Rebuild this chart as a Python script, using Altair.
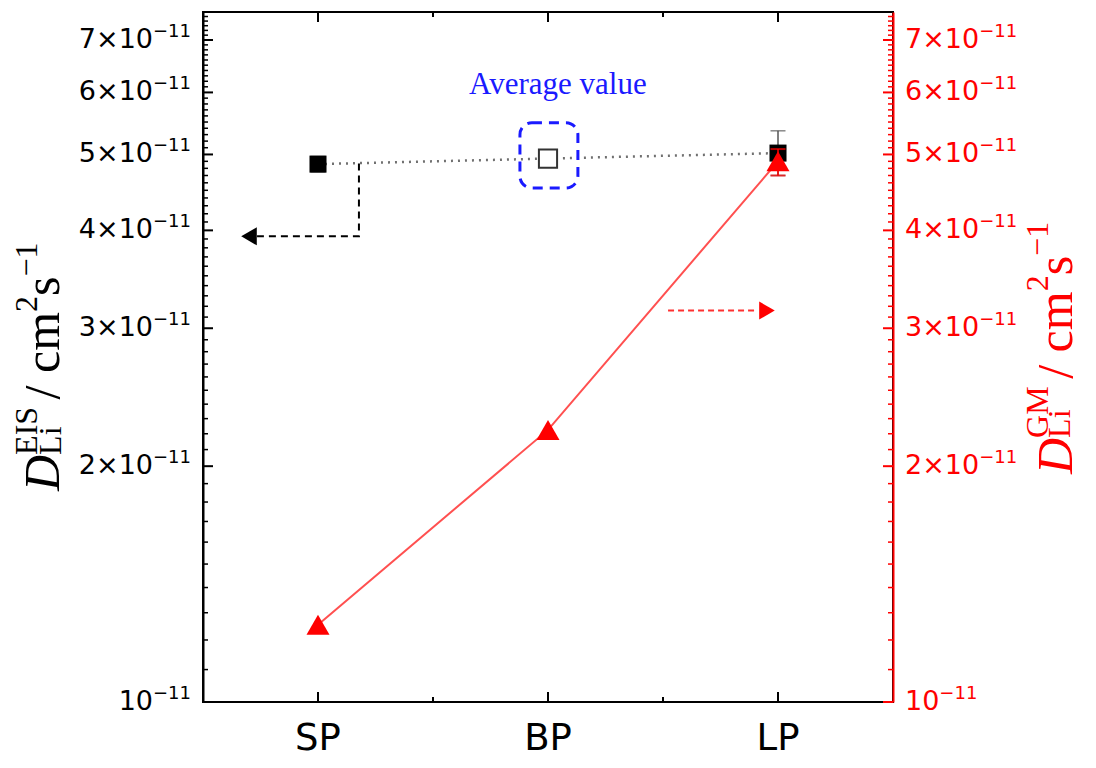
import altair as alt
import pandas as pd

# ---------------- data ----------------
categories = ["SP", "BP", "LP"]
positions = [1, 2, 3]

eis_values = [4.86e-11, 4.94e-11, 5.02e-11]
eis_filled = [True, False, True]
eis_err_pos = [1, 3]
eis_err_low = [4.75e-11, 4.70e-11]
eis_err_high = [4.97e-11, 5.36e-11]

gm_values = [1.255e-11, 2.225e-11, 4.90e-11]
gm_err_pos = [3]
gm_err_low = [4.70e-11]
gm_err_high = [5.08e-11]

y_major = [1e-11, 2e-11, 3e-11, 4e-11, 5e-11, 6e-11, 7e-11]
y_label_main = ["10", "2\u00d710", "3\u00d710", "4\u00d710", "5\u00d710", "6\u00d710", "7\u00d710"]
y_label_sup = ["\u221211"] * 7
y_minor_mantissa = [1.1, 1.2, 1.3, 1.4, 1.5, 1.6, 1.7, 1.8, 1.9,
                    2.1, 2.2, 2.3, 2.4, 2.5, 2.6, 2.7, 2.8, 2.9,
                    3.1, 3.2, 3.3, 3.4, 3.5, 3.6, 3.7, 3.8, 3.9,
                    4.1, 4.2, 4.3, 4.4, 4.5, 4.6, 4.7, 4.8, 4.9,
                    5.1, 5.2, 5.3, 5.4, 5.5, 5.6, 5.7, 5.8, 5.9,
                    6.1, 6.2, 6.3, 6.4, 6.5, 6.6, 6.7, 6.8, 6.9,
                    7.1, 7.2, 7.3, 7.4, 7.5]
x_major = [1, 2, 3]
x_minor = [1.5, 2.5]

# annotation anchors (data coordinates)
avg_box_x = [1.878]
avg_box_x2 = [2.130]
avg_box_y = [5.49e-11]
avg_box_y2 = [4.53e-11]
avg_label_x = [2.043]
avg_label_y = [5.98e-11]
avg_label_text = ["Average value"]
left_arrow_x = [1.178, 1.178, 0.735]
left_arrow_y = [4.87e-11, 3.93e-11, 3.93e-11]
left_head_x = [0.70]
left_head_y = [3.93e-11]
right_arrow_x = [2.522, 2.913]
right_arrow_y = [3.16e-11, 3.16e-11]
right_head_x = [2.952]
right_head_y = [3.16e-11]

# ---------------- layout ----------------
W, H = 690, 690
MAJ, MIN = 10, 5
RED = "#ff0000"
LABEL_FONT = "DejaVu Sans"
LAB_SIZE, SUP_SIZE = 27, 18
DIG = 0.636   # DejaVu Sans digit advance (em)

xscale = alt.Scale(domain=[0.5, 3.5], nice=False, zero=False)
yscale = alt.Scale(type="log", domain=[1e-11, 7.6e-11], nice=False)

def y_axis(orient, color):
    return alt.Axis(orient=orient, values=y_major, labels=False, ticks=False, grid=False,
                    domain=True, domainColor=color, domainWidth=2, title=None)

bottom_axis = alt.Axis(orient="bottom", values=x_major, labels=False, ticks=False, grid=False,
                       domain=True, domainColor="black", domainWidth=2, title=None)

ymaj_df = pd.DataFrame({"v": y_major, "main": y_label_main, "sup": y_label_sup})
ymin_df = pd.DataFrame({"v": [m * 1e-11 for m in y_minor_mantissa]})
xmaj_df = pd.DataFrame({"v": x_major})
xmin_df = pd.DataFrame({"v": x_minor})

layers = []
# left ticks (carry left axis)
layers.append(alt.Chart(ymaj_df).mark_rule(color="black", strokeWidth=2).encode(
    y=alt.Y("v:Q", scale=yscale, axis=y_axis("left", "black")), x=alt.value(0), x2=alt.value(MAJ)))
layers.append(alt.Chart(ymin_df).mark_rule(color="black", strokeWidth=1.5).encode(
    y=alt.Y("v:Q", scale=yscale, axis=None), x=alt.value(0), x2=alt.value(MIN)))
# right ticks (carry right axis)
layers.append(alt.Chart(ymaj_df).mark_rule(color=RED, strokeWidth=2).encode(
    y=alt.Y("v:Q", scale=yscale, axis=y_axis("right", RED)), x=alt.value(W), x2=alt.value(W - MAJ)))
layers.append(alt.Chart(ymin_df).mark_rule(color=RED, strokeWidth=1.5).encode(
    y=alt.Y("v:Q", scale=yscale, axis=None), x=alt.value(W), x2=alt.value(W - MIN)))
# bottom / top ticks
layers.append(alt.Chart(xmaj_df).mark_rule(color="black", strokeWidth=2).encode(
    x=alt.X("v:Q", scale=xscale, axis=bottom_axis), y=alt.value(H), y2=alt.value(H - MAJ)))
layers.append(alt.Chart(xmin_df).mark_rule(color="black", strokeWidth=2).encode(
    x=alt.X("v:Q", scale=xscale, axis=None), y=alt.value(H), y2=alt.value(H - MIN)))
layers.append(alt.Chart(xmaj_df).mark_rule(color="black", strokeWidth=2).encode(
    x=alt.X("v:Q", scale=xscale, axis=None), y=alt.value(0), y2=alt.value(MAJ)))
layers.append(alt.Chart(xmin_df).mark_rule(color="black", strokeWidth=2).encode(
    x=alt.X("v:Q", scale=xscale, axis=None), y=alt.value(0), y2=alt.value(MIN)))

def X(f="x"):
    return alt.X(f + ":Q", scale=xscale, axis=None)

def Y(f="y"):
    return alt.Y(f + ":Q", scale=yscale, axis=None)

# ---- tick labels (main part + superscript exponent) ----
sup_w = (0.838 + 2 * DIG) * SUP_SIZE
PADL, PADR = 12, 12
SUP_DY = -8
def lab(df, t, x, color, align, size, dy=0):
    return alt.Chart(df).mark_text(font=LABEL_FONT, fontSize=size, color=color, align=align,
                                   baseline="middle", dy=dy).encode(
        y=Y("v"), x=alt.value(x), text=t + ":N")

layers.append(lab(ymaj_df, "main", -PADL - sup_w, "black", "right", LAB_SIZE))
layers.append(lab(ymaj_df, "sup", -PADL, "black", "right", SUP_SIZE, SUP_DY))
layers.append(lab(ymaj_df, "main", W + PADR, RED, "left", LAB_SIZE))
times_rows = ymaj_df[ymaj_df["main"].str.len() > 2]
plain_rows = ymaj_df[ymaj_df["main"].str.len() <= 2]
w_times = (3 * DIG + 0.838) * LAB_SIZE
w_plain = 2 * DIG * LAB_SIZE
layers.append(lab(times_rows, "sup", W + PADR + w_times, RED, "left", SUP_SIZE, SUP_DY))
layers.append(lab(plain_rows, "sup", W + PADR + w_plain, RED, "left", SUP_SIZE, SUP_DY))

cat_df = pd.DataFrame({"x": positions, "t": categories})
layers.append(alt.Chart(cat_df).mark_text(font=LABEL_FONT, fontSize=37, color="black", align="center",
                                          baseline="alphabetic").encode(
    x=X(), y=alt.value(H + 48), text="t:N"))

eis_df = pd.DataFrame({"x": positions, "y": eis_values, "filled": eis_filled})
eis_err = pd.DataFrame({"x": eis_err_pos, "lo": eis_err_low, "hi": eis_err_high})
gm_df = pd.DataFrame({"x": positions, "y": gm_values})
gm_err = pd.DataFrame({"x": gm_err_pos, "lo": gm_err_low, "hi": gm_err_high})

# EIS series
layers.append(alt.Chart(eis_df).mark_line(color="#707070", strokeWidth=2.5, strokeDash=[2, 5]).encode(x=X(), y=Y()))
layers.append(alt.Chart(eis_err).mark_rule(color="#555555", strokeWidth=1.5).encode(x=X(), y=Y("lo"), y2="hi:Q"))
layers.append(alt.Chart(eis_err).mark_tick(color="#555555", orient="horizontal", size=15, thickness=1.5).encode(x=X(), y=Y("lo")))
layers.append(alt.Chart(eis_err).mark_tick(color="#555555", orient="horizontal", size=15, thickness=1.5).encode(x=X(), y=Y("hi")))
layers.append(alt.Chart(eis_df[eis_df.filled]).mark_point(shape="square", filled=True, color="black", size=290, opacity=1).encode(x=X(), y=Y()))
layers.append(alt.Chart(eis_df[~eis_df.filled]).mark_point(shape="square", filled=True, fill="white", stroke="#333333", strokeWidth=2, size=330, opacity=1).encode(x=X(), y=Y()))

# GM series
layers.append(alt.Chart(gm_df).mark_line(color="#ff5050", strokeWidth=2).encode(x=X(), y=Y()))
layers.append(alt.Chart(gm_err).mark_rule(color=RED, strokeWidth=1.5).encode(x=X(), y=Y("lo"), y2="hi:Q"))
layers.append(alt.Chart(gm_err).mark_tick(color=RED, orient="horizontal", size=15, thickness=2).encode(x=X(), y=Y("lo")))
layers.append(alt.Chart(gm_err).mark_tick(color=RED, orient="horizontal", size=15, thickness=2).encode(x=X(), y=Y("hi")))
layers.append(alt.Chart(gm_df).mark_point(shape="triangle-up", filled=True, color=RED, size=530, opacity=1).encode(x=X(), y=Y()))

# annotations
box_df = pd.DataFrame({"x": avg_box_x, "x2": avg_box_x2, "y": avg_box_y, "y2": avg_box_y2})
layers.append(alt.Chart(box_df).mark_rect(fill="white", fillOpacity=0, stroke="#1a1aff", strokeWidth=3,
                                           strokeDash=[10, 7], cornerRadius=12).encode(
    x=X(), x2="x2:Q", y=Y(), y2="y2:Q"))
lab_df = pd.DataFrame({"x": avg_label_x, "y": avg_label_y, "t": avg_label_text})
layers.append(alt.Chart(lab_df).mark_text(font="Liberation Serif", fontSize=31, color="#1a1aff",
                                          align="center", baseline="alphabetic").encode(x=X(), y=Y(), text="t:N"))
la_df = pd.DataFrame({"x": left_arrow_x, "y": left_arrow_y, "i": [0, 1, 2]})
layers.append(alt.Chart(la_df).mark_line(color="black", strokeWidth=2, strokeDash=[7, 5]).encode(
    x=X(), y=Y(), order="i:Q"))
lh_df = pd.DataFrame({"x": left_head_x, "y": left_head_y})
layers.append(alt.Chart(lh_df).mark_point(shape="triangle-left", filled=True, color="black", size=324, opacity=1).encode(x=X(), y=Y()))
ra_df = pd.DataFrame({"x": right_arrow_x, "y": right_arrow_y})
layers.append(alt.Chart(ra_df).mark_line(color="#ff3030", strokeWidth=2, strokeDash=[6, 4]).encode(x=X(), y=Y()))
rh_df = pd.DataFrame({"x": right_head_x, "y": right_head_y})
layers.append(alt.Chart(rh_df).mark_point(shape="triangle-right", filled=True, color=RED, size=324, opacity=1).encode(x=X(), y=Y()))

# axis titles built from pieces (rotated text)
NB = "\u00a0"
CHARW = {"D": .722, "E": .611, "I": .333, "S": .556, "G": .722, "M": .889, "L": .611, "i": .278,
         "/": .278, NB: .25, "c": .444, "m": .778, "s": .389, "2": .5, "\u2212": .564, "1": .5}

def textw(t, size):
    return sum(CHARW.get(ch, .5) for ch in t) * size

dummy = pd.DataFrame({"a": [0]})
BIG, SMALL = 50, 32

def title_pieces(start_y, base_x, sup_dx, sub_dx, sup_text, color):
    out = []
    y = start_y
    def piece(t, size, bx, italic=False):
        return alt.Chart(dummy).mark_text(text=t, font="Liberation Serif", fontSize=size,
                                          fontStyle="italic" if italic else "normal", color=color,
                                          angle=270, align="left", baseline="alphabetic").encode(
            x=alt.value(bx), y=alt.value(y))
    out.append(piece("D", BIG, base_x, True))
    y -= textw("D", BIG)
    out.append(piece(sup_text, SMALL, base_x + sup_dx))
    out.append(piece("Li", SMALL, base_x + sub_dx))
    y -= max(textw(sup_text, SMALL), textw("Li", SMALL)) + 0.15 * BIG
    body = "/" + NB + "cm"
    out.append(piece(body, BIG, base_x))
    y -= textw(body, BIG)
    out.append(piece("2", SMALL, base_x + sup_dx))
    y -= textw("2", SMALL)
    out.append(piece("s", BIG, base_x))
    y -= textw("s", BIG)
    out.append(piece("\u22121", SMALL, base_x + sup_dx))
    return out

layers += title_pieces(479, -144, -22, 2, "EIS", "black")
layers += title_pieces(462, 869, -24, -2, "GM", RED)

chart = alt.layer(*layers).resolve_axis(y="independent").properties(
    width=W, height=H,
    autosize=alt.AutoSizeParams(type="none"),
    padding={"left": 195, "top": 4, "right": 195, "bottom": 58},
    background="white",
).configure_view(stroke="black", strokeWidth=2)

chart.save("out.html", embed_options={"renderer": "svg", "actions": False})
